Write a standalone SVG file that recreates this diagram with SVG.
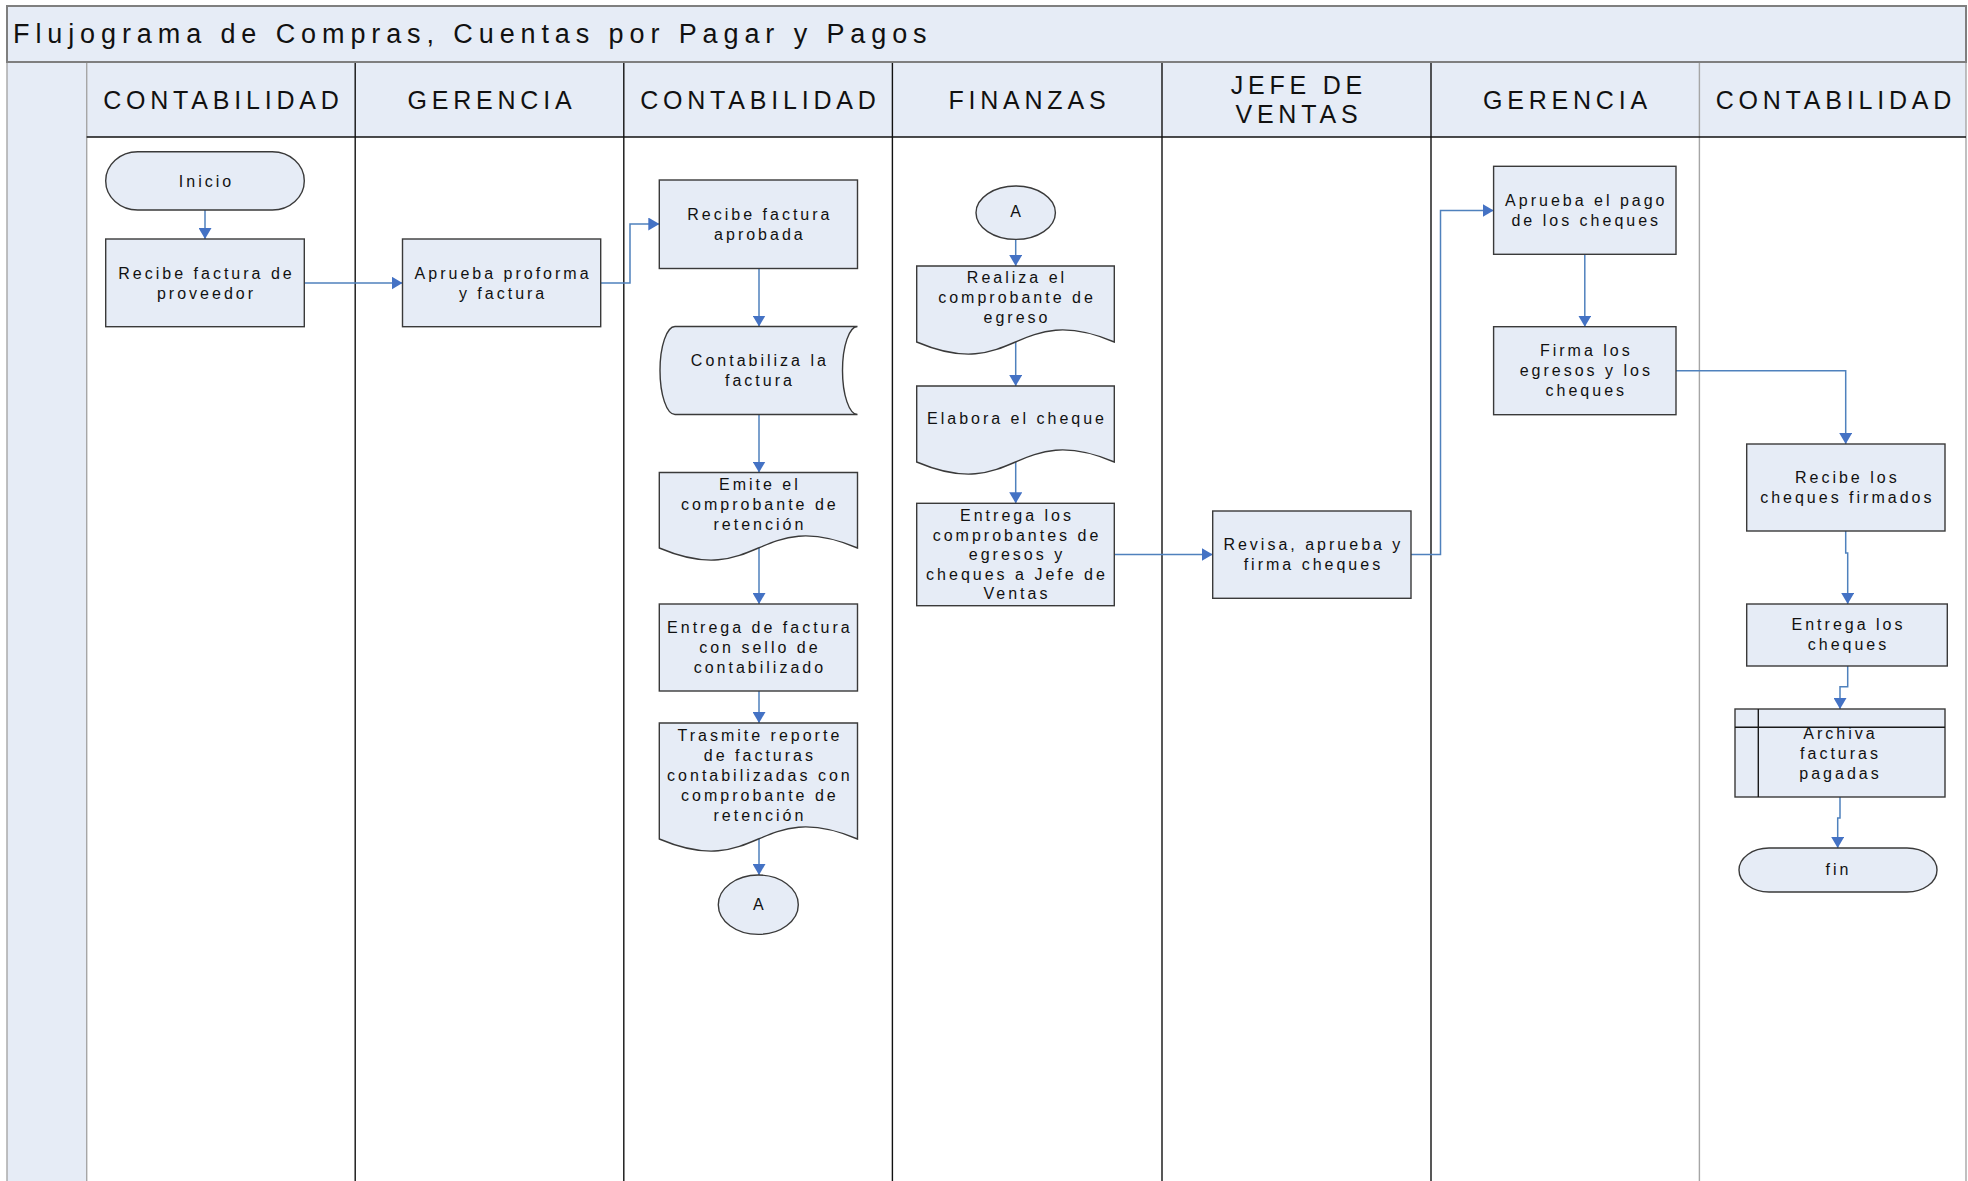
<svg xmlns="http://www.w3.org/2000/svg" width="1968" height="1181" viewBox="0 0 1968 1181">
  <defs>
    <style>
      .band { fill: #E6ECF6; }
      .frame { fill: none; stroke: #7F7F7F; stroke-width: 2; }
      .lane { stroke: #111; stroke-width: 1.4; }
      .lane-soft { stroke: #A6A6A6; stroke-width: 1.4; }
      .shape { fill: #E6ECF6; stroke: #3A3A3A; stroke-width: 1.4; }
      .inner { fill: none; stroke: #1A1A1A; stroke-width: 1.4; }
      .title { font-family: "Liberation Sans", Arial, sans-serif; font-size: 27px; letter-spacing: 5.9px; fill: #111; }
      .head { font-family: "Liberation Sans", Arial, sans-serif; font-size: 25px; letter-spacing: 4.8px; fill: #111; text-anchor: middle; }
      .label { font-family: "Liberation Sans", Arial, sans-serif; font-size: 16px; letter-spacing: 3px; fill: #111; text-anchor: middle; }
      .flow { fill: none; stroke: #4F81BD; stroke-width: 1.5; marker-end: url(#arrow); }
    </style>
    <marker id="arrow" viewBox="0 0 11 13" refX="11" refY="6.5" markerWidth="11" markerHeight="13" markerUnits="userSpaceOnUse" orient="auto">
      <path d="M0,0 L11,6.5 L0,13 Z" fill="#4472C4"/>
    </marker>
  </defs>

  <rect x="0" y="0" width="1968" height="1181" fill="#FFFFFF"/>

  <!-- title bar -->
  <g id="title-bar">
    <rect class="band" x="7" y="6" width="1959" height="56"/>
    <text class="title" x="13" y="43">Flujograma de Compras, Cuentas por Pagar y Pagos</text>
  </g>

  <!-- swimlane grid -->
  <g id="lanes">
    <rect class="band" x="7" y="62" width="79.7" height="1119"/>
    <rect class="band" x="86.7" y="62" width="1879.3" height="75"/>
    <line class="lane-soft" x1="7" y1="62" x2="7" y2="1181"/>
    <line class="lane-soft" x1="86.7" y1="62" x2="86.7" y2="1181"/>
    <line class="lane" x1="355.2" y1="62" x2="355.2" y2="1181"/>
    <line class="lane" x1="623.8" y1="62" x2="623.8" y2="1181"/>
    <line class="lane" x1="892.4" y1="62" x2="892.4" y2="1181"/>
    <line class="lane" x1="1162" y1="62" x2="1162" y2="1181"/>
    <line class="lane" x1="1431" y1="62" x2="1431" y2="1181"/>
    <line class="lane-soft" x1="1699.4" y1="62" x2="1699.4" y2="1181"/>
    <line class="lane-soft" x1="1966" y1="62" x2="1966" y2="1181"/>
    <line class="lane" x1="86.7" y1="137" x2="1966" y2="137"/>
    <rect class="frame" x="7" y="6" width="1959" height="56"/>
    <text class="head" x="223.4" y="108.5">CONTABILIDAD</text>
    <text class="head" x="491.9" y="108.5">GERENCIA</text>
    <text class="head" x="760.4" y="108.5">CONTABILIDAD</text>
    <text class="head" x="1029.4" y="108.5">FINANZAS</text>
    <text class="head" x="1298.9" y="94">JEFE DE</text>
    <text class="head" x="1298.9" y="123">VENTAS</text>
    <text class="head" x="1567.4" y="108.5">GERENCIA</text>
    <text class="head" x="1835.9" y="108.5">CONTABILIDAD</text>
  </g>

  <!-- connectors -->
  <g id="connectors">
    <path class="flow" d="M205,210 V239"/>
    <path class="flow" d="M304.3,283 H402.5"/>
    <path class="flow" d="M600.7,283 H630 V224 H659.3"/>
    <path class="flow" d="M759,268.5 V326.5"/>
    <path class="flow" d="M759,414.5 V472.5"/>
    <path class="flow" d="M759,548 V604"/>
    <path class="flow" d="M759,691 V723"/>
    <path class="flow" d="M759,839 V875"/>
    <path class="flow" d="M1015.7,239.4 V266"/>
    <path class="flow" d="M1015.7,342 V386"/>
    <path class="flow" d="M1015.7,462 V503.3"/>
    <path class="flow" d="M1114.3,554.5 H1212.7"/>
    <path class="flow" d="M1411,554.5 H1440.5 V210.5 H1493.6"/>
    <path class="flow" d="M1584.8,254.3 V326.7"/>
    <path class="flow" d="M1676,370.7 H1845.7 V444"/>
    <path class="flow" d="M1845.7,531 V553 H1847.7 V604"/>
    <path class="flow" d="M1847.7,666 V686.7 H1840 V709"/>
    <path class="flow" d="M1840,797 V818 H1837.7 V848"/>
  </g>

  <!-- CONTABILIDAD (1) -->
  <g id="inicio">
    <rect class="shape" x="105.7" y="151.7" width="198.6" height="58.3" rx="32" ry="29"/>
    <text class="label" x="206.5" y="186.6">Inicio</text>
  </g>
  <g id="recibe-factura-proveedor">
    <rect class="shape" x="105.7" y="239" width="198.6" height="87.7"/>
    <text class="label" x="206.5" y="278.6">Recibe factura de</text>
    <text class="label" x="206.5" y="298.6">proveedor</text>
  </g>

  <!-- GERENCIA (1) -->
  <g id="aprueba-proforma">
    <rect class="shape" x="402.5" y="239" width="198.2" height="87.7"/>
    <text class="label" x="503.1" y="278.6">Aprueba proforma</text>
    <text class="label" x="503.1" y="298.6">y factura</text>
  </g>

  <!-- CONTABILIDAD (2) -->
  <g id="recibe-factura-aprobada">
    <rect class="shape" x="659.3" y="180" width="198.2" height="88.5"/>
    <text class="label" x="759.9" y="219.6">Recibe factura</text>
    <text class="label" x="759.9" y="239.6">aprobada</text>
  </g>
  <g id="contabiliza-factura">
    <path class="shape" d="M675,326.5 H857.5 A15,44 0 0 0 857.5,414.5 H675 A15,44 0 0 1 675,326.5 Z"/>
    <text class="label" x="759.9" y="366.1">Contabiliza la</text>
    <text class="label" x="759.9" y="386.1">factura</text>
  </g>
  <g id="emite-comprobante">
    <path class="shape" d="M659.3,472.5 H857.5 V548 C758.4,506 758.4,590 659.3,548 Z"/>
    <text class="label" x="759.9" y="490.1">Emite el</text>
    <text class="label" x="759.9" y="510.1">comprobante de</text>
    <text class="label" x="759.9" y="530.1">retención</text>
  </g>
  <g id="entrega-factura-sello">
    <rect class="shape" x="659.3" y="604" width="198.2" height="87"/>
    <text class="label" x="759.9" y="633.1">Entrega de factura</text>
    <text class="label" x="759.9" y="653.1">con sello de</text>
    <text class="label" x="759.9" y="673.1">contabilizado</text>
  </g>
  <g id="trasmite-reporte">
    <path class="shape" d="M659.3,723 H857.5 V839 C758.4,797 758.4,881 659.3,839 Z"/>
    <text class="label" x="759.9" y="741.2">Trasmite reporte</text>
    <text class="label" x="759.9" y="761.2">de facturas</text>
    <text class="label" x="759.9" y="781.2">contabilizadas con</text>
    <text class="label" x="759.9" y="801.2">comprobante de</text>
    <text class="label" x="759.9" y="821.2">retención</text>
  </g>
  <g id="conector-a-salida">
    <ellipse class="shape" cx="758.3" cy="904.7" rx="40" ry="29.7"/>
    <text class="label" x="759.8" y="910.3">A</text>
  </g>

  <!-- FINANZAS -->
  <g id="conector-a-entrada">
    <ellipse class="shape" cx="1015.7" cy="212.7" rx="39.7" ry="26.7"/>
    <text class="label" x="1017.2" y="216.6">A</text>
  </g>
  <g id="realiza-comprobante-egreso">
    <path class="shape" d="M916.7,266 H1114.3 V342 C1015.5,300 1015.5,384 916.7,342 Z"/>
    <text class="label" x="1017" y="283.1">Realiza el</text>
    <text class="label" x="1017" y="303.1">comprobante de</text>
    <text class="label" x="1017" y="323.1">egreso</text>
  </g>
  <g id="elabora-cheque">
    <path class="shape" d="M916.7,386 H1114.3 V462 C1015.5,420 1015.5,504 916.7,462 Z"/>
    <text class="label" x="1017" y="423.6">Elabora el cheque</text>
  </g>
  <g id="entrega-comprobantes">
    <rect class="shape" x="916.7" y="503.3" width="197.6" height="102.4"/>
    <text class="label" x="1017" y="521.1">Entrega los</text>
    <text class="label" x="1017" y="540.6">comprobantes de</text>
    <text class="label" x="1017" y="560.1">egresos y</text>
    <text class="label" x="1017" y="579.6">cheques a Jefe de</text>
    <text class="label" x="1017" y="599.1">Ventas</text>
  </g>

  <!-- JEFE DE VENTAS -->
  <g id="revisa-aprueba-firma">
    <rect class="shape" x="1212.7" y="511" width="198.3" height="87.3"/>
    <text class="label" x="1313.4" y="550.1">Revisa, aprueba y</text>
    <text class="label" x="1313.4" y="570.1">firma cheques</text>
  </g>

  <!-- GERENCIA (2) -->
  <g id="aprueba-pago">
    <rect class="shape" x="1493.6" y="166.3" width="182.4" height="88"/>
    <text class="label" x="1586.3" y="205.9">Aprueba el pago</text>
    <text class="label" x="1586.3" y="225.9">de los cheques</text>
  </g>
  <g id="firma-egresos">
    <rect class="shape" x="1493.6" y="326.7" width="182.4" height="88"/>
    <text class="label" x="1586.3" y="356.3">Firma los</text>
    <text class="label" x="1586.3" y="376.3">egresos y los</text>
    <text class="label" x="1586.3" y="396.3">cheques</text>
  </g>

  <!-- CONTABILIDAD (3) -->
  <g id="recibe-cheques-firmados">
    <rect class="shape" x="1746.7" y="444" width="198.3" height="87"/>
    <text class="label" x="1847.3" y="483.1">Recibe los</text>
    <text class="label" x="1847.3" y="503.1">cheques firmados</text>
  </g>
  <g id="entrega-cheques">
    <rect class="shape" x="1746.7" y="604" width="200.6" height="62"/>
    <text class="label" x="1848.5" y="629.6">Entrega los</text>
    <text class="label" x="1848.5" y="649.6">cheques</text>
  </g>
  <g id="archiva-facturas">
    <rect class="shape" x="1735" y="709" width="210" height="88"/>
    <line class="inner" x1="1758.3" y1="709" x2="1758.3" y2="797"/>
    <line class="inner" x1="1735" y1="727.3" x2="1945" y2="727.3"/>
    <text class="label" x="1840.5" y="738.6">Archiva</text>
    <text class="label" x="1840.5" y="758.6">facturas</text>
    <text class="label" x="1840.5" y="778.6">pagadas</text>
  </g>
  <g id="fin">
    <rect class="shape" x="1739" y="848" width="198" height="44" rx="30" ry="22"/>
    <text class="label" x="1838.5" y="874.6">fin</text>
  </g>
</svg>
